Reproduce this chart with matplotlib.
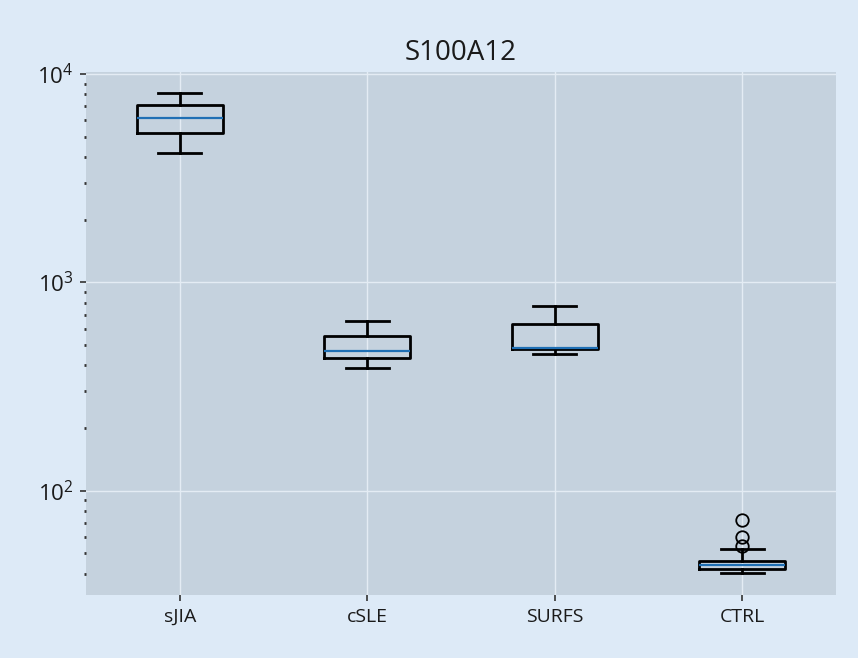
import matplotlib
matplotlib.use("Agg")
import matplotlib.pyplot as plt

plt.rcParams['font.family'] = ['Open Sans', 'DejaVu Sans']
plt.rcParams['mathtext.fontset'] = 'custom'
plt.rcParams['mathtext.rm'] = 'Open Sans'
plt.rcParams['mathtext.it'] = 'Open Sans:italic'
plt.rcParams['mathtext.bf'] = 'Open Sans:bold'

categories = ["sJIA", "cSLE", "SURFS", "CTRL"]
whislo = [4170, 390, 451, 40.4]
q1 = [5200, 432, 478, 42.2]
med = [6140, 471, 482, 44.1]
q3 = [7100, 556, 635, 46.0]
whishi = [8110, 656, 767, 52.6]
fliers = [[], [], [], [72.6, 60.1, 54.5]]

stats = []
for i, c in enumerate(categories):
    stats.append(dict(label=c, whislo=whislo[i], q1=q1[i], med=med[i],
                      q3=q3[i], whishi=whishi[i], fliers=fliers[i]))

fig = plt.figure(figsize=(8.58, 6.58), dpi=100, facecolor="#ddeaf7")
ax = fig.add_axes([86/858, 63/658, 750/858, 523/658])
ax.set_facecolor("#c5d2de")
for s in ax.spines.values():
    s.set_visible(False)

ax.bxp(stats, widths=0.46,
       boxprops=dict(color="black", linewidth=2.0),
       whiskerprops=dict(color="black", linewidth=2.0),
       capprops=dict(color="black", linewidth=2.0),
       medianprops=dict(color="#1f6fb4", linewidth=1.6),
       flierprops=dict(marker="o", markerfacecolor="none", markeredgecolor="black",
                       markersize=9, markeredgewidth=1.3))

ax.set_yscale("log")
ax.set_ylim(31.6, 10230)
ax.set_xlim(0.5, 4.5)
ax.grid(True, which="major", color="#e4ecf4", linewidth=1.0)
ax.set_axisbelow(True)
ax.tick_params(axis="both", which="major", color="#333333",
               length=4, width=1.2, labelcolor="#1a1a1a", pad=5)
ax.tick_params(axis="x", which="major", labelsize=14)
ax.tick_params(axis="y", which="major", labelsize=16)
ax.tick_params(axis="y", which="minor", length=1.5, width=2, color="#333333", pad=5)
ax.set_title("S100A12", fontsize=20, color="#1a1a1a", pad=9)

fig.savefig("out.png", dpi=100, facecolor=fig.get_facecolor())
